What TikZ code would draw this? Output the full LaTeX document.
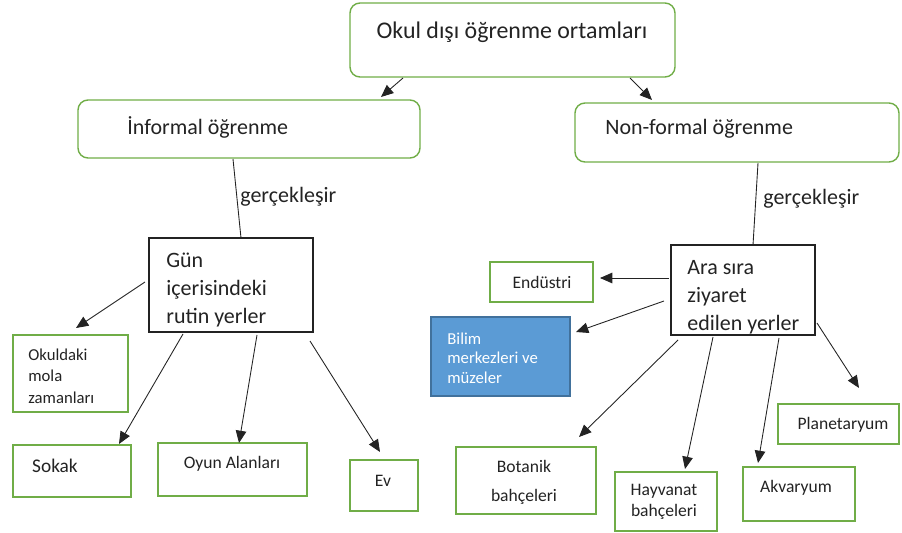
\documentclass[tikz,border=0pt]{standalone}
\usepackage{fontspec}
\setmainfont{Carlito}
\usepackage{xcolor}
\usetikzlibrary{arrows.meta,fit}
\definecolor{boxgreen}{RGB}{112,173,71}
\definecolor{boxblue}{RGB}{91,155,213}
\definecolor{boxblueline}{RGB}{65,113,156}
\definecolor{ink}{RGB}{35,35,35}
\tikzset{
  greenround/.style={draw=boxgreen, line width=0.8pt, rounded corners=0.2cm, inner sep=0pt},
  greenbox/.style={draw=boxgreen, line width=0.8pt, inner sep=0pt},
  blackbox/.style={draw=ink, line width=1pt, inner sep=0pt},
  bluebox/.style={draw=boxblueline, fill=boxblue, line width=0.6pt, inner sep=0pt},
  bigtext/.style={text=ink, inner sep=0pt, font=\fontsize{12.5}{15.9}\selectfont},
  smalltext/.style={text=ink, inner sep=0pt, font=\fontsize{10}{12}\selectfont},
  link/.style={draw=ink, line width=0.5pt},
  arrow/.style={link, -{Triangle[length=7pt,width=6pt]}}
}
\begin{document}
\begin{tikzpicture}[x=0.02cm, y=-0.02cm]
  \useasboundingbox (0,0) rectangle (902,533);

  % boxes
  \node (Okul) [greenround, fit={(350,3) (675,77)}] {};
  \node (Info) [greenround, fit={(78,100) (420,158)}] {};
  \node (Non) [greenround, fit={(575,103) (899,162)}] {};
  \node (Gun) [blackbox, fit={(149,238) (313,332)}] {};
  \node (Ara) [blackbox, fit={(671,245) (815,335)}] {};
  \node (Endu) [greenbox, fit={(490,262) (593,302)}] {};
  \node (Bilim) [bluebox, fit={(431,317) (570,396)}] {};
  \node (Mola) [greenbox, fit={(13,335) (128,412)}] {};
  \node (Sokak) [greenbox, fit={(13,445) (131,497)}] {};
  \node (Oyun) [greenbox, fit={(158,443) (307,496)}] {};
  \node (Ev) [greenbox, fit={(350,460) (418,511)}] {};
  \node (Botanik) [greenbox, fit={(456,447) (596,514)}] {};
  \node (Hayvan) [greenbox, fit={(615,472) (717,531)}] {};
  \node (Akvar) [greenbox, fit={(743,467) (855,521)}] {};
  \node (Planet) [greenbox, fit={(778,404) (899,444)}] {};

  % texts
  \node (Okult) [bigtext, font=\fontsize{13.6}{16}\selectfont] at (512,32) {Okul dışı öğrenme ortamları};
  \node (Infot) [bigtext, anchor=west] at (127,127) {İnformal öğrenme};
  \node (Nont) [bigtext, anchor=west] at (605,129) {Non-formal öğrenme};
  \node (Gerl) [bigtext, anchor=west] at (240,197) {gerçekleşir};
  \node (Gerr) [bigtext, anchor=west] at (763,199) {gerçekleşir};
  \node (Gunt) [bigtext, anchor=west, align=left] at (166,290) {Gün\\içerisindeki\\rutin yerler};
  \node (Arat) [bigtext, anchor=west, align=left] at (687,297) {Ara sıra\\ziyaret\\edilen yerler};
  \node (Endut) [smalltext] at (542,282) {Endüstri};
  \node (Bilimt) [smalltext, text=white, anchor=west, align=left,
    font=\fontsize{9.5}{11}\selectfont] at (447,358) {Bilim\\merkezleri ve\\müzeler};
  \node (Molat) [smalltext, anchor=west, align=left,
    font=\fontsize{9.5}{12.2}\selectfont] at (28,376) {Okuldaki\\mola\\zamanları};
  \node (Sokakt) [smalltext, font=\fontsize{11}{13}\selectfont] at (55,466) {Sokak};
  \node (Oyunt) [smalltext] at (232,464) {Oyun Alanları};
  \node (Evt) [smalltext] at (383,481) {Ev};
  \node (Botanikt) [smalltext, align=center, font=\fontsize{10}{16.5}\selectfont] at (524,482) {Botanik\\bahçeleri};
  \node (Hayvant) [smalltext, align=center] at (664,502) {Hayvanat\\bahçeleri};
  \node (Akvart) [smalltext] at (796,488) {Akvaryum};
  \node (Planett) [smalltext] at (843,425) {Planetaryum};

  % connector ends
  \coordinate (Okulsl) at (403,78);
  \coordinate (Infon) at (381,97);
  \coordinate (Okulsr) at (630,78);
  \coordinate (Nonn) at (652,100);
  \coordinate (Infos) at (233,159);
  \coordinate (Gunn) at (241,238);
  \coordinate (Nons) at (758,163);
  \coordinate (Aran) at (753,245);

  \coordinate (Gunw) at (145,282);
  \coordinate (Molan) at (76,328);
  \coordinate (Gunsa) at (183,334);
  \coordinate (Sokakn) at (119,444);
  \coordinate (Gunsb) at (257,335);
  \coordinate (Oyunn) at (239,443);
  \coordinate (Gunsc) at (310,341);
  \coordinate (Evn) at (380,452);

  \coordinate (Araw) at (669,278);
  \coordinate (Endue) at (600,278);
  \coordinate (Arawb) at (664,301);
  \coordinate (Bilime) at (576,332);
  \coordinate (Arasa) at (678,340);
  \coordinate (Botanikn) at (579,437);
  \coordinate (Arasb) at (713,337);
  \coordinate (Hayvann) at (685,469);
  \coordinate (Arasc) at (779,338);
  \coordinate (Akvarn) at (758,463);
  \coordinate (Arae) at (817,323);
  \coordinate (Planetn) at (859,388);

  % connectors
  \draw[arrow] (Okulsl) -- (Infon);
  \draw[arrow] (Okulsr) -- (Nonn);
  \draw[link] (Infos) -- (Gunn);
  \draw[link] (Nons) -- (Aran);

  \draw[arrow] (Gunw) -- (Molan);
  \draw[arrow] (Gunsa) -- (Sokakn);
  \draw[arrow] (Gunsb) -- (Oyunn);
  \draw[arrow] (Gunsc) -- (Evn);

  \draw[arrow] (Araw) -- (Endue);
  \draw[arrow] (Arawb) -- (Bilime);
  \draw[arrow] (Arasa) -- (Botanikn);
  \draw[arrow] (Arasb) -- (Hayvann);
  \draw[arrow] (Arasc) -- (Akvarn);
  \draw[arrow] (Arae) -- (Planetn);
\end{tikzpicture}
\end{document}
